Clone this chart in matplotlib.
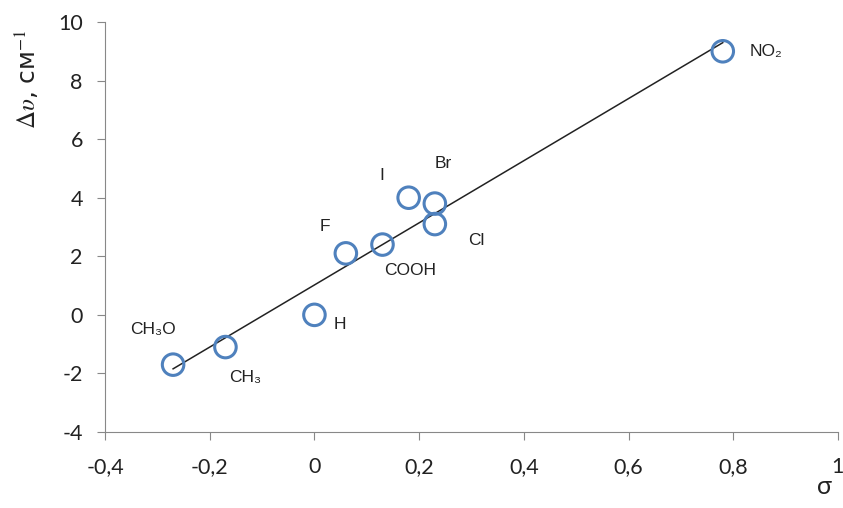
import numpy as np
import matplotlib.pyplot as plt

plt.rcParams["mathtext.fontset"] = "stix"

# substituent constants and shifts
names = ["NO₂", "CH₃O", "CH₃", "H", "F", "COOH", "I", "Br", "Cl"]
sigma = [0.78, -0.27, -0.17, 0.0, 0.06, 0.13, 0.18, 0.23, 0.23]
dnu = [9.0, -1.7, -1.1, 0.0, 2.1, 2.4, 4.0, 3.8, 3.1]

# label offsets in points from each marker
offsets = [(19, 0), (-31, 25), (3, -22), (14, -7), (-19, 19), (1, -19), (-21, 16), (0, 29), (24, -12)]

x = np.array(sigma)
y = np.array(dnu)

fig = plt.figure(figsize=(8.43, 5.08), dpi=100)
ax = fig.add_axes([0.1246, 0.1496, 0.8694, 0.8071])

k, b = np.polyfit(x, y, 1)
xl = np.array([x.min(), x.max()])
ax.plot(xl, k * xl + b, color="#222222", lw=1.1, zorder=2)

ax.scatter(x, y, s=240, facecolors="none", edgecolors="#4F81BD", linewidths=2.2, zorder=3)

for n, xi, yi, off in zip(names, x, y, offsets):
    ax.annotate(n, (xi, yi), xytext=off, textcoords="offset points",
                fontsize=12.5, family=["Liberation Sans", "DejaVu Sans"], color="#222222",
                va="center", ha="left")

ax.set_xlim(-0.4, 1.0)
ax.set_ylim(-4, 10)
ax.set_xticks(np.arange(-0.4, 1.01, 0.2))
ax.set_yticks(np.arange(-4, 10.1, 2))
ax.set_xticklabels(["-0,4", "-0,2", "0", "0,2", "0,4", "0,6", "0,8", "1"])
ax.set_yticklabels(["-4", "-2", "0", "2", "4", "6", "8", "10"])
for lab in ax.get_xticklabels() + ax.get_yticklabels():
    lab.set_family("Lato")

for s in ["top", "right"]:
    ax.spines[s].set_visible(False)
for s in ["left", "bottom"]:
    ax.spines[s].set_color("#888888")
ax.tick_params(direction="out", length=6, color="#888888", labelsize=15.5, labelcolor="#222222")
ax.tick_params(axis="x", pad=12)
ax.tick_params(axis="y", pad=10)

ax.set_ylabel(r"$\Delta\upsilon$, см$^{-1}$", fontsize=18, color="#222222")
ax.yaxis.set_label_coords(-0.088, 0.86)
fig.text(0.978, 0.02, "σ", fontsize=18, family="Lato", color="#222222", ha="center", va="bottom")

fig.savefig("out.png", dpi=100)
